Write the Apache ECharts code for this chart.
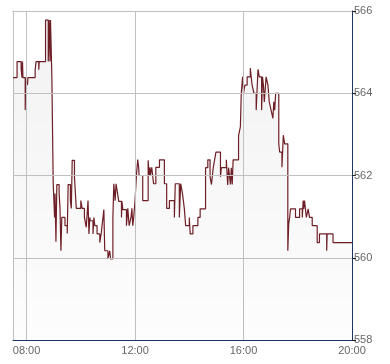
<!DOCTYPE html>
<html>
<head>
<meta charset="utf-8">
<script src="https://cdn.jsdelivr.net/npm/echarts@6/dist/echarts.min.js"></script>
<style>
html,body{margin:0;padding:0;background:#fff;}
#c{width:390px;height:364px;}
</style>
</head>
<body>
<div id="c"></div>
<script>
const times = ['07:30','07:39','07:48','07:50','07:51','07:52','07:57','07:58','08:02','08:03',
'08:19','08:21','08:27','08:28','08:42','08:48','08:50','08:52','08:53','08:56',
'08:59','09:02','09:03','09:05','09:07','09:12','09:14','09:16','09:18','09:25',
'09:30','09:32','09:37','09:39','09:41','09:46','09:49','09:50','10:00','10:03',
'10:08','10:12','10:16','10:18','10:20','10:21','10:27','10:29','10:31','10:36',
'10:42','10:45','10:49','10:51','10:53','11:00','11:04','11:06','11:11','11:13',
'11:16','11:18','11:21','11:24','11:30','11:31','11:33','11:41','11:44','11:47',
'11:51','11:53','11:55','11:57','12:00','12:03','12:06','12:08','12:09','12:17',
'12:29','12:31','12:33','12:34','12:37','12:41','12:46','12:54','13:05','13:10',
'13:16','13:27','13:29','13:38','13:41','13:45','13:49','13:52','14:00','14:02',
'14:08','14:19','14:24','14:36','14:41','14:46','14:49','14:53','14:56','14:59',
'15:09','15:11','15:22','15:25','15:27','15:31','15:33','15:35','15:37','15:49',
'15:53','15:55','15:58','16:00','16:03','16:08','16:15','16:17','16:19','16:23',
'16:28','16:32','16:35','16:40','16:42','16:44','16:46','16:50','16:54','16:57',
'17:01','17:05','17:07','17:09','17:11','17:18','17:20','17:25','17:28','17:31',
'17:38','17:40','17:42','17:44','17:55','18:04','18:10','18:12','18:13','18:15',
'18:19','18:23','18:26','18:32','18:43','18:48','19:04','19:05','19:18','20:00'];
const prices = [564.38,564.77,564.59,564.38,564.77,564.38,563.59,564.38,564.20,564.38,
564.57,564.77,564.57,564.77,565.78,564.77,565.78,564.77,565.78,564.38,
561.80,560.98,561.56,560.39,561.78,561.59,561.20,560.17,560.98,560.78,
560.59,561.78,561.39,561.20,562.37,561.96,561.39,561.20,561.39,561.20,
560.98,560.74,561.39,560.58,560.98,560.90,560.58,560.98,560.78,560.58,
560.37,560.58,560.97,561.17,560.17,559.97,560.17,559.97,560.97,561.80,
561.39,561.80,561.59,561.37,560.98,561.37,561.17,560.78,561.20,560.78,
560.98,561.20,560.78,560.98,561.39,562.00,562.39,562.20,562.00,561.39,
562.37,562.00,562.20,562.00,562.20,561.80,562.20,562.38,561.80,561.20,
561.39,560.98,561.80,560.98,561.80,561.56,561.20,560.78,560.98,560.58,
560.78,560.98,561.19,562.19,562.38,561.97,561.78,562.19,562.38,562.57,
561.97,562.19,562.38,561.77,562.19,561.78,562.19,561.78,562.38,562.97,
563.18,564.00,564.40,564.00,564.20,564.40,564.61,564.40,564.20,564.00,
563.59,564.58,564.40,563.59,564.40,564.20,563.79,564.40,564.20,563.79,
563.59,563.39,563.79,563.59,564.00,562.77,562.57,562.20,562.98,562.77,
560.17,560.83,560.98,561.19,560.98,561.19,560.98,561.39,561.19,561.39,
560.98,561.19,560.98,560.78,560.37,560.58,560.17,560.58,560.37,560.37];
const xTickLabels = ['08:00','12:00','16:00','20:00'];
const yTicks = [558,560,562,564,566];

function toMin(s){const p=s.split(':');return (+p[0])*60+(+p[1]);}
function fmt(v){const h=Math.floor(v/60),m=Math.round(v%60);return String(h).padStart(2,'0')+':'+String(m).padStart(2,'0');}
const xTickVals = xTickLabels.map(toMin);
const data = times.map((t,i)=>[toMin(t),prices[i]]);
const yMin = yTicks[0], yMax = yTicks[yTicks.length-1];

const chart = echarts.init(document.getElementById('c'));
chart.setOption({
  animation:false,
  grid:{left:13,right:38,top:11,bottom:24,show:false},
  xAxis:[{
    type:'value', min:toMin('07:30'), max:toMin('20:00'),
    axisLine:{show:true,onZero:false,lineStyle:{color:'#1c3563',width:1}},
    axisTick:{show:false,customValues:xTickVals},
    axisLabel:{customValues:xTickVals,formatter:fmt,color:'#666',fontSize:11,fontFamily:'Liberation Sans, Arial, sans-serif',margin:5},
    splitLine:{show:false}, z:5
  },{
    type:'value', position:'top', min:toMin('07:30'), max:toMin('20:00'),
    axisLine:{show:true,onZero:false,lineStyle:{color:'#c0c0c0',width:1}},
    axisTick:{show:false}, axisLabel:{show:false}, splitLine:{show:false}
  }],
  yAxis:[{
    type:'value', position:'right', min:yMin, max:yMax, interval:2,
    axisLine:{show:true,onZero:false,lineStyle:{color:'#1c3563',width:1}},
    axisTick:{show:true,length:4,lineStyle:{color:'#222'}},
    axisLabel:{color:'#666',fontSize:11,fontFamily:'Liberation Sans, Arial, sans-serif',margin:2},
    splitLine:{show:true,lineStyle:{color:'#c0c0c0',width:1}}, z:5
  },{
    type:'value', position:'left', min:yMin, max:yMax, interval:2,
    axisLine:{show:true,onZero:false,lineStyle:{color:'#c0c0c0',width:1}},
    axisTick:{show:false}, axisLabel:{show:false}, splitLine:{show:false}
  }],
  series:[{
    type:'line', step:'end', data:data, symbol:'none',
    lineStyle:{color:'#6e1f26',width:1.2},
    areaStyle:{origin:'start',color:new echarts.graphic.LinearGradient(0,11,0,340,[
      {offset:0,color:'rgba(0,0,0,0.075)'},{offset:1,color:'rgba(0,0,0,0.012)'}],true)},
    markLine:{silent:true,symbol:'none',label:{show:false},animation:false,
      lineStyle:{color:'#c0c0c0',width:1,type:'solid'},
      data:xTickVals.map(v=>({xAxis:v}))},
    z:2
  }]
});
</script>
</body>
</html>
